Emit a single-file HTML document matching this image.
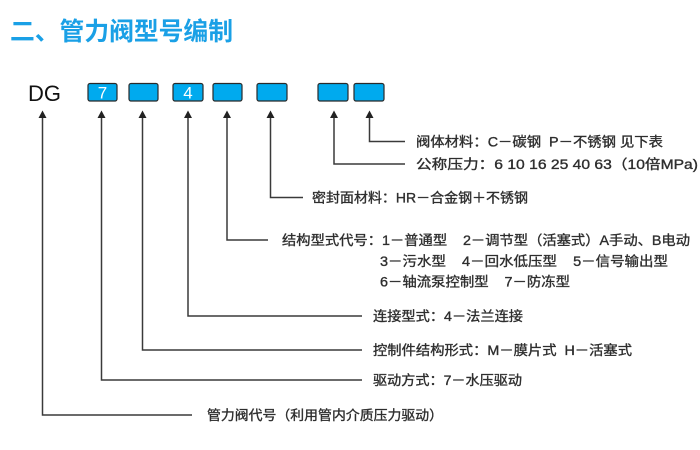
<!DOCTYPE html>
<html><head><meta charset="utf-8"><style>
html,body{margin:0;padding:0;background:#fff;}
svg{display:block;}
text{font-family:"Liberation Sans","Noto Sans CJK SC",sans-serif;}
</style></head><body>
<svg width="700" height="450" viewBox="0 0 700 450" xmlns="http://www.w3.org/2000/svg">
<rect width="700" height="450" fill="#fff"/>
<text x="10" y="40" font-size="25" font-weight="bold" fill="#1aa0e6" textLength="223" lengthAdjust="spacingAndGlyphs">二、管力阀型号编制</text>
<text x="28" y="101" font-size="22" fill="#111">DG</text>
<g fill="#00aaee" stroke="#2a2a2a" stroke-width="1.2">
<rect x="88" y="83.5" width="29" height="17.5" rx="2"/>
<rect x="129" y="83.5" width="29" height="17.5" rx="2"/>
<rect x="173" y="83.5" width="30" height="17.5" rx="2"/>
<rect x="213" y="83.5" width="29" height="17.5" rx="2"/>
<rect x="257" y="83.5" width="30" height="17.5" rx="2"/>
<rect x="318" y="83.5" width="30" height="17.5" rx="2"/>
<rect x="354" y="83.5" width="30" height="17.5" rx="2"/>
</g>
<text x="102.5" y="98.5" font-size="17" fill="#fff" text-anchor="middle">7</text>
<text x="188" y="98.5" font-size="17" fill="#fff" text-anchor="middle">4</text>
<g fill="none" stroke="#3a3a3a" stroke-width="1.5">
<polyline points="42.5,116 42.5,415 192,415"/>
<polyline points="101.5,116 101.5,380 362,380"/>
<polyline points="142.5,116 142.5,350 362,350"/>
<polyline points="188,116 188,316 362,316"/>
<polyline points="227,116 227,240 268,240"/>
<polyline points="270.5,116 270.5,197.5 303,197.5"/>
<polyline points="334,116 334,164 405,164"/>
<polyline points="369.5,116 369.5,141.5 405,141.5"/>
</g>
<g fill="#222">
<polygon points="42.5,110.5 38.5,118 46.5,118"/>
<polygon points="101.5,110.5 97.5,118 105.5,118"/>
<polygon points="142.5,110.5 138.5,118 146.5,118"/>
<polygon points="188,110.5 184,118 192,118"/>
<polygon points="227,110.5 223,118 231,118"/>
<polygon points="270.5,110.5 266.5,118 274.5,118"/>
<polygon points="334,110.5 330,118 338,118"/>
<polygon points="369.5,110.5 365.5,118 373.5,118"/>
</g>
<g font-size="13.5" fill="#2e2e2e" stroke="#2e2e2e" stroke-width="0.35">
<text x="416" y="146.5" textLength="247" lengthAdjust="spacingAndGlyphs">阀体材料：C－碳钢&#160;&#160;P－不锈钢&#160;见下表</text>
<text x="416" y="169" textLength="282" lengthAdjust="spacingAndGlyphs">公称压力：6 10 16 25 40 63（10倍MPa)</text>
<text x="312" y="202.5" textLength="216" lengthAdjust="spacingAndGlyphs">密封面材料：HR－合金钢＋不锈钢</text>
<text x="282" y="245" textLength="408" lengthAdjust="spacingAndGlyphs">结构型式代号：1－普通型&#160;&#160;&#160;&#160;2－调节型（活塞式）A手动、B电动</text>
<text x="380" y="266" textLength="288" lengthAdjust="spacingAndGlyphs">3－污水型&#160;&#160;&#160;&#160;4－回水低压型&#160;&#160;&#160;&#160;5－信号输出型</text>
<text x="380" y="286.5" textLength="190" lengthAdjust="spacingAndGlyphs">6－轴流泵控制型&#160;&#160;&#160;&#160;7－防冻型</text>
<text x="373" y="321" textLength="150" lengthAdjust="spacingAndGlyphs">连接型式：4－法兰连接</text>
<text x="373" y="355" textLength="259" lengthAdjust="spacingAndGlyphs">控制件结构形式：M－膜片式&#160;&#160;H－活塞式</text>
<text x="373" y="385" textLength="149" lengthAdjust="spacingAndGlyphs">驱动方式：7－水压驱动</text>
<text x="207" y="420" textLength="236" lengthAdjust="spacingAndGlyphs">管力阀代号（利用管内介质压力驱动）</text>
</g>
</svg>
</body></html>
